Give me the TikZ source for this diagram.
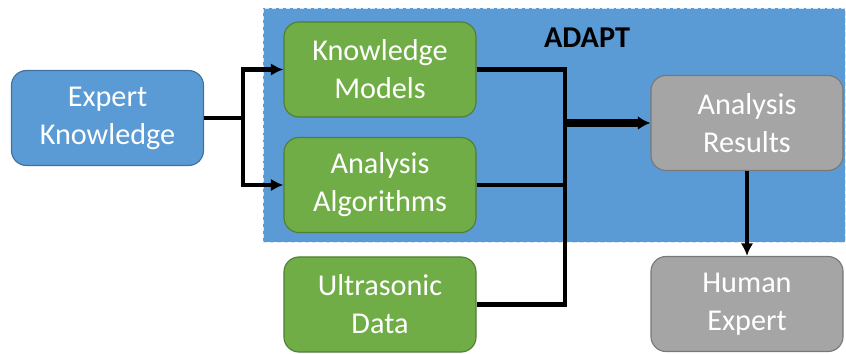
\documentclass[tikz,border=0pt]{standalone}
\usepackage{fontspec}
\setmainfont{Carlito}
\usetikzlibrary{arrows.meta}
\definecolor{adaptblue}{HTML}{5B9BD5}
\definecolor{blueline}{HTML}{41719C}
\definecolor{greenfill}{HTML}{70AD47}
\definecolor{greenline}{HTML}{507E32}
\definecolor{grayfill}{HTML}{A5A5A5}
\definecolor{grayline}{HTML}{787878}

\begin{document}
\begin{tikzpicture}[
 x=0.025cm,y=-0.025cm,
 >={Latex[length=9pt,width=9pt]},
 align=center,
 inner sep=1mm,
 font=\fontsize{21.5}{27}\selectfont,
 block/.style={draw,rounded corners=0.375cm,minimum width=4.8cm,minimum height=2.375cm,text=white,line width=0.8pt},
 expert/.style={block,fill=adaptblue,draw=blueline},
 source/.style={block,fill=greenfill,draw=greenline},
 result/.style={block,fill=grayfill,draw=grayline},
 wire/.style={line width=3pt,black}
]
\useasboundingbox (0,0) rectangle (846,354);
\node (adapt) [fill=adaptblue,draw=white!75!adaptblue,densely dashed,line width=0.5pt,
 minimum width=14.55cm,minimum height=5.85cm,inner sep=0pt] at (554,125) {};
\node (adapt-label) at (587,38) {\textbf{ADAPT}};
\node (expert-knowledge) [expert] at (107.5,118) {Expert\\Knowledge};
\node (knowledge-models) [source] at (380,69.5) {Knowledge\\Models};
\node (analysis-algorithms) [source] at (380,185) {Analysis\\Algorithms};
\node (ultrasonic-data) [source] at (380,304.5) {Ultrasonic\\Data};
\node (analysis-results) [result] at (747,123) {Analysis\\Results};
\node (human-expert) [result] at (747,304) {Human\\Expert};
\coordinate (split) at (243,118);
\coordinate (join) at (565,123);
\draw[wire] (expert-knowledge.east) -- (split);
\draw[wire,->] (split) |- (knowledge-models.west);
\draw[wire,->] (split) |- (analysis-algorithms.west);
\draw[wire] (knowledge-models.east) -| (join |- ultrasonic-data.east) -- (ultrasonic-data.east);
\draw[wire] (analysis-algorithms.east) -- (analysis-algorithms.east -| join);
\draw[line width=5pt,->,>={Latex[length=9pt,width=10pt]}] (join) -- (analysis-results.west);
\draw[wire,->] (analysis-results.south) -- (human-expert.north);
\end{tikzpicture}
\end{document}
